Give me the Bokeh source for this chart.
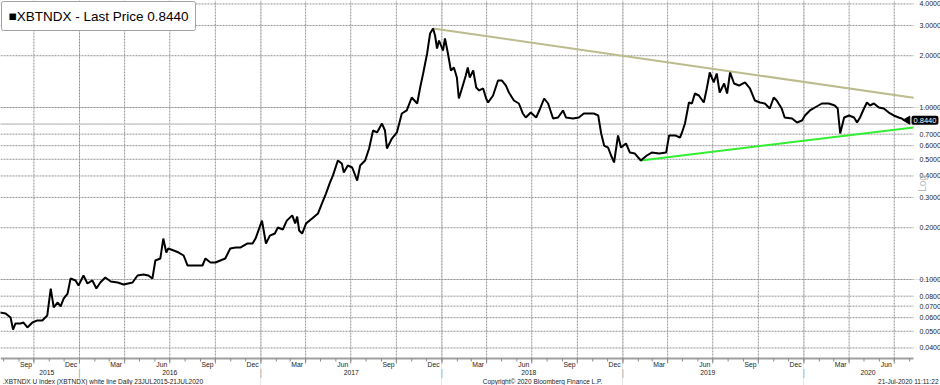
import numpy as np
import pandas as pd
from bokeh.plotting import figure
from bokeh.models import Range1d, Label, ColumnDataSource
from bokeh.embed import file_html
from bokeh.resources import INLINE

# ---------------- data ----------------
dates = [
    "2015-07-23", "2015-08-05", "2015-08-15", "2015-08-20", "2015-08-25", "2015-09-04", "2015-09-10",
    "2015-09-18", "2015-09-28", "2015-10-08", "2015-10-18", "2015-10-28", "2015-11-04", "2015-11-10",
    "2015-11-18", "2015-11-24", "2015-11-30", "2015-12-08", "2015-12-14", "2015-12-24", "2015-12-30",
    "2016-01-09", "2016-01-17", "2016-01-27", "2016-02-04", "2016-02-12", "2016-02-22", "2016-03-04",
    "2016-03-18", "2016-03-30", "2016-04-17", "2016-04-27", "2016-05-09", "2016-05-19", "2016-05-27",
    "2016-06-02", "2016-06-12", "2016-06-18", "2016-06-24", "2016-06-28", "2016-07-09", "2016-07-19",
    "2016-07-29", "2016-08-06", "2016-08-16", "2016-08-26", "2016-09-05", "2016-09-11", "2016-09-21",
    "2016-10-01", "2016-10-11", "2016-10-21", "2016-10-31", "2016-11-11", "2016-11-21", "2016-12-05",
    "2016-12-15", "2016-12-21", "2017-01-03", "2017-01-11", "2017-01-19", "2017-01-29", "2017-02-04",
    "2017-02-14", "2017-02-22", "2017-03-05", "2017-03-11", "2017-03-15", "2017-03-19", "2017-03-25",
    "2017-04-02", "2017-04-14", "2017-04-26", "2017-05-04", "2017-05-12", "2017-05-20", "2017-05-26",
    "2017-06-05", "2017-06-13", "2017-06-17", "2017-06-25", "2017-07-04", "2017-07-14", "2017-07-20",
    "2017-07-30", "2017-08-07", "2017-08-15", "2017-08-23", "2017-09-02", "2017-09-08", "2017-09-12",
    "2017-09-22", "2017-10-02", "2017-10-12", "2017-10-22", "2017-11-01", "2017-11-12", "2017-11-18",
    "2017-11-24", "2017-12-02", "2017-12-08", "2017-12-14", "2017-12-18", "2017-12-22", "2017-12-26",
    "2018-01-03", "2018-01-07", "2018-01-13", "2018-01-19", "2018-01-25", "2018-01-31", "2018-02-04",
    "2018-02-12", "2018-02-18", "2018-02-22", "2018-02-26", "2018-03-05", "2018-03-11", "2018-03-17",
    "2018-03-25", "2018-03-31", "2018-04-04", "2018-04-14", "2018-04-24", "2018-05-02", "2018-05-10",
    "2018-05-16", "2018-05-26", "2018-06-05", "2018-06-13", "2018-06-19", "2018-06-29", "2018-07-10",
    "2018-07-18", "2018-07-26", "2018-08-03", "2018-08-13", "2018-08-23", "2018-09-02", "2018-09-08",
    "2018-09-22", "2018-10-04", "2018-10-14", "2018-10-24", "2018-11-03", "2018-11-12", "2018-11-18",
    "2018-11-24", "2018-12-02", "2018-12-08", "2018-12-14", "2018-12-22", "2018-12-28", "2019-01-07",
    "2019-01-15", "2019-01-25", "2019-02-06", "2019-02-18", "2019-02-28", "2019-03-15", "2019-03-29",
    "2019-04-04", "2019-04-16", "2019-04-26", "2019-04-30", "2019-05-06", "2019-05-14", "2019-05-20",
    "2019-05-26", "2019-06-03", "2019-06-13", "2019-06-19", "2019-06-25", "2019-07-03", "2019-07-09",
    "2019-07-15", "2019-07-24", "2019-07-30", "2019-08-05", "2019-08-13", "2019-08-23", "2019-09-04",
    "2019-09-14", "2019-09-24", "2019-10-04", "2019-10-14", "2019-10-24", "2019-11-01", "2019-11-07",
    "2019-11-17", "2019-11-23", "2019-12-08", "2019-12-18", "2019-12-28", "2020-01-03", "2020-01-13",
    "2020-01-23", "2020-02-06", "2020-02-20", "2020-03-03", "2020-03-09", "2020-03-14", "2020-03-22",
    "2020-04-01", "2020-04-11", "2020-04-17", "2020-04-23", "2020-05-01", "2020-05-07", "2020-05-13",
    "2020-05-21", "2020-05-31", "2020-06-10", "2020-06-20", "2020-06-30", "2020-07-10", "2020-07-16",
    "2020-07-21",
]
prices = [
    0.0645, 0.0634, 0.0601, 0.0512, 0.0555, 0.0555, 0.0562,
    0.0526, 0.0562, 0.0578, 0.0578, 0.0618, 0.0886, 0.0688,
    0.0735, 0.0697, 0.0775, 0.0829, 0.1013, 0.0987, 0.0923,
    0.1055, 0.0948, 0.0987, 0.0886, 0.0961, 0.1027, 0.0974,
    0.0961, 0.0935, 0.0961, 0.1055, 0.1069, 0.1055, 0.1013,
    0.1290, 0.1325, 0.1730, 0.1435, 0.1514, 0.1474, 0.1435,
    0.1379, 0.1206, 0.1206, 0.1206, 0.1206, 0.1325, 0.1256,
    0.1256, 0.1290, 0.1325, 0.1514, 0.1535, 0.1535, 0.1620,
    0.1620, 0.1730, 0.2200, 0.1620, 0.1800, 0.1850, 0.2006,
    0.1953, 0.2200, 0.2360, 0.2120, 0.2320, 0.1927, 0.1850,
    0.2120, 0.2260, 0.2420, 0.2770, 0.3160, 0.3660, 0.4020,
    0.4920, 0.4720, 0.4190, 0.4600, 0.4480, 0.3760, 0.4600,
    0.4920, 0.5780, 0.7350, 0.7160, 0.8070, 0.7350, 0.5780,
    0.6600, 0.7160, 0.9230, 0.9610, 1.1430, 1.0550, 1.3070,
    1.5770, 2.0610, 2.6930, 2.8800, 2.6220, 2.2030, 2.4520,
    2.1450, 2.5180, 2.0610, 1.6410, 1.7080, 1.4940, 1.1280,
    1.3420, 1.5350, 1.7080, 1.4940, 1.6410, 1.3070, 1.2560,
    1.2900, 1.1280, 1.0690, 1.1740, 1.4350, 1.4350, 1.3420,
    1.2220, 1.0980, 1.0550, 0.9230, 0.8750, 0.9350, 0.8750,
    0.9870, 1.1280, 1.0550, 0.8630, 0.8750, 0.9610, 0.8750,
    0.8630, 0.8750, 0.9230, 0.9230, 0.9230, 0.8990, 0.7060,
    0.6010, 0.5850, 0.5260, 0.4790, 0.6880, 0.5850, 0.6180,
    0.5470, 0.5400, 0.4920, 0.5260, 0.5470, 0.5400, 0.5470,
    0.6880, 0.6880, 0.6690, 0.7160, 0.8070, 1.0690, 1.0550,
    1.2060, 1.1740, 1.0690, 1.2900, 1.5980, 1.3980, 1.5770,
    1.2220, 1.3790, 1.2060, 1.5980, 1.3790, 1.3420, 1.3980,
    1.2900, 1.0980, 1.0690, 1.0550, 0.9870, 1.1430, 1.0980,
    0.9870, 0.8750, 0.8630, 0.8180, 0.8400, 0.8990, 0.9610,
    1.0000, 1.0550, 1.0550, 1.0270, 0.9870, 0.7060, 0.8750,
    0.8990, 0.8750, 0.8180, 0.8750, 0.9870, 1.0690, 1.0270,
    1.0550, 1.0000, 0.9870, 0.9350, 0.8990, 0.8750, 0.8630,
    0.8440,
]

upper_trend_dates = ["2017-12-14", "2020-08-09"]
upper_trend_values = [2.88, 1.14]
lower_trend_dates = ["2019-02-06", "2020-08-09"]
lower_trend_values = [0.492, 0.765]

last_price = 0.8440
y_ticks = [0.04, 0.05, 0.06, 0.07, 0.08, 0.1, 0.2, 0.3, 0.4, 0.5, 0.6, 0.7, 0.8, 1.0, 2.0, 3.0, 4.0]
month_names = {3: "Mar", 6: "Jun", 9: "Sep", 12: "Dec"}
year_labels = ["2015", "2016", "2017", "2018", "2019", "2020"]
year_label_dates = ["2015-10-27", "2016-07-01", "2017-07-02", "2018-06-25", "2019-06-21", "2020-05-09"]

title_text = "\u25a0XBTNDX - Last Price 0.8440"
footer_left = ".XBTNDX U Index (XBTNDX) white line  Daily 23JUL2015-21JUL2020"
footer_mid = "Copyright\u00a9 2020 Bloomberg Finance L.P."
footer_right = "21-Jul-2020 11:11:22"

# ---------------- layout (pixel calibration of the page) ----------------
W, H = 940, 385
FONT = "Liberation Sans"
GRID = "#929292"
TXT = "#222222"
ORIGIN = pd.Timestamp("2016-01-01")   # at pixel x = 79
DAYS_PER_PX = 2.0166
PX_PER_DECADE = 172.0                 # 1.0 at pixel y = 107
PLOT_RIGHT, PLOT_BOTTOM = 913, 358


def date_at(xp):
    return ORIGIN + pd.Timedelta(days=(xp - 79) * DAYS_PER_PX)


def val_at(yp):
    return 10 ** ((107 - yp) / PX_PER_DECADE)


def ms(d):
    return pd.Timestamp(d).value / 1e6


def sy(yp):  # screen units measured from the bottom
    return H - yp


p = figure(width=W, height=H, x_axis_type="datetime", y_axis_type="log",
           x_axis_location=None, y_axis_location=None,
           toolbar_location=None, output_backend="svg",
           x_range=Range1d(ms(date_at(0)), ms(date_at(W))),
           y_range=Range1d(val_at(H), val_at(0)),
           min_border_left=0, min_border_top=0, min_border_right=0, min_border_bottom=0,
           background_fill_color="white", border_fill_color="white", outline_line_color=None)

months = pd.date_range("2015-08-01", "2020-08-01", freq="MS")
quarters = [m for m in months if m.month in (1, 4, 7, 10)]

x_left, x_right = date_at(0), date_at(PLOT_RIGHT)
y_bot, y_top = val_at(PLOT_BOTTOM), val_at(0)

# grid
p.segment(x0=quarters, x1=quarters, y0=[y_bot] * len(quarters), y1=[y_top] * len(quarters),
          line_color=GRID, line_dash="2 1", line_width=1)
p.segment(x0=[x_left] * len(y_ticks), x1=[x_right] * len(y_ticks), y0=y_ticks, y1=y_ticks,
          line_color=GRID, line_dash="2 1", line_width=1)
p.segment(x0=[x_left], x1=[x_right], y0=[0.8], y1=[0.8], line_color="#d0d0d0", line_width=1.5)

# bottom axis with quarter / month ticks
p.segment(x0=[x_left], x1=[x_right], y0=[y_bot], y1=[y_bot], line_color="#a0a0a0", line_width=2)
p.segment(x0=quarters, x1=quarters, y0=[y_bot] * len(quarters), y1=[val_at(PLOT_BOTTOM + 5)] * len(quarters),
          line_color="#8a8a8a", line_width=1)
p.segment(x0=list(months), x1=list(months), y0=[y_bot] * len(months),
          y1=[val_at(PLOT_BOTTOM + 3)] * len(months), line_color="#8a8a8a", line_width=1)

# trend lines
p.line(pd.to_datetime(upper_trend_dates), upper_trend_values, line_color="#bcbb8e", line_width=2)
p.line(pd.to_datetime(lower_trend_dates), lower_trend_values, line_color="#33ee33", line_width=2)

# price series
src = ColumnDataSource(dict(d=pd.to_datetime(dates), v=prices))
p.line("d", "v", source=src, line_color="black", line_width=2)

# right tick labels
for t in y_ticks:
    if abs(t - 0.8) < 1e-9:
        continue
    p.add_layout(Label(x=919, y=t, x_units="screen", y_units="data", text=f"{t:.4f}",
                       text_font=FONT, text_font_size="7px", text_color=TXT,
                       text_align="left", text_baseline="middle"))

# last price tag
p.scatter([date_at(907)], [last_price], marker="triangle", angle=np.pi / 2, size=8,
          fill_color="black", line_color="black")
p.add_layout(Label(x=911, y=last_price, x_units="screen", y_units="data", text=f"{last_price:.4f}",
                   text_font=FONT, text_font_size="7.5px", text_color="white",
                   text_align="left", text_baseline="middle", background_fill_color="black",
                   padding=2, border_radius=2))

# "Log"
p.add_layout(Label(x=922, y=sy(183), x_units="screen", y_units="screen", text="Log",
                   text_font=FONT, text_font_size="10px", text_color="#b8b8b8", angle=np.pi / 2,
                   text_align="center", text_baseline="middle"))

# title box
p.add_layout(Label(x=1, y=sy(1), x_units="screen", y_units="screen", text=title_text,
                   text_font=FONT, text_font_size="13.5px", text_color="black",
                   text_align="left", text_baseline="top", background_fill_color="white",
                   border_line_color="#a0a0a0", padding=7, border_radius=2))

# month labels
for m in months:
    if m.month in month_names:
        mid = m + pd.Timedelta(days=14)
        p.add_layout(Label(x=ms(mid), y=sy(364), x_units="data", y_units="screen",
                           text=month_names[m.month], text_font=FONT, text_font_size="6.8px",
                           text_color=TXT, text_align="center", text_baseline="middle"))

# year labels and separators
for lbl, d in zip(year_labels, year_label_dates):
    p.add_layout(Label(x=ms(d), y=sy(372), x_units="data", y_units="screen", text=lbl,
                       text_font=FONT, text_font_size="6.8px", text_color=TXT,
                       text_align="center", text_baseline="middle"))
for m in months:
    if m.month == 1:
        p.add_layout(Label(x=ms(m), y=sy(372), x_units="data", y_units="screen", text="|",
                           text_font=FONT, text_font_size="9px", text_color="#aaaaaa",
                           text_align="center", text_baseline="middle"))

# footers
p.add_layout(Label(x=2, y=sy(381), x_units="screen", y_units="screen", text=footer_left,
                   text_font=FONT, text_font_size="6.5px", text_color=TXT,
                   text_align="left", text_baseline="middle"))
p.add_layout(Label(x=542, y=sy(381), x_units="screen", y_units="screen", text=footer_mid,
                   text_font=FONT, text_font_size="6.5px", text_color=TXT,
                   text_align="center", text_baseline="middle"))
p.add_layout(Label(x=938, y=sy(381), x_units="screen", y_units="screen", text=footer_right,
                   text_font=FONT, text_font_size="6.5px", text_color=TXT,
                   text_align="right", text_baseline="middle"))

open("out.html", "w").write(file_html(p, INLINE))
